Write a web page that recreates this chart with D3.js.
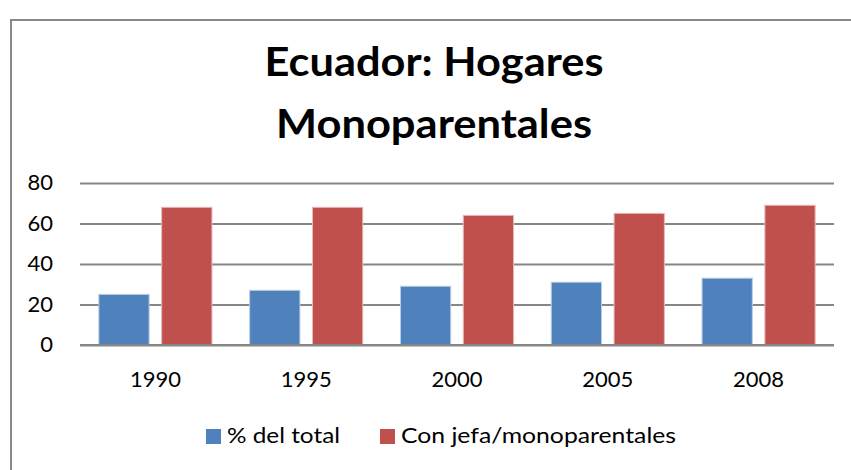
<!DOCTYPE html>
<html>
<head>
<meta charset="utf-8">
<script src="https://cdn.jsdelivr.net/npm/d3@7"></script>
<style>
  html, body { margin: 0; padding: 0; background: #fff; }
  svg { display: block; font-family: Lato, "Open Sans", sans-serif; }
</style>
</head>
<body>
<div id="chart"></div>
<script>
// data
const years = ["1990", "1995", "2000", "2005", "2008"];
const seriesNames = ["% del total", "Con jefa/monoparentales"];
const pctTotal = [25, 27, 29, 31, 33];
const conJefa = [68, 68, 64, 65, 69];
const yTicks = [0, 20, 40, 60, 80];
const titleLines = ["Ecuador: Hogares", "Monoparentales"];
const colors = ["#4F81BD", "#C0504D"];

const width = 851, height = 470;
const plot = { left: 80, right: 834, top: 183, bottom: 345 };

const svg = d3.select("#chart").append("svg")
  .attr("width", width)
  .attr("height", height);

// outer frame (runs off the right and bottom edges)
svg.append("rect")
  .attr("x", 11).attr("y", 20)
  .attr("width", 860).attr("height", 470)
  .attr("fill", "#fff")
  .attr("stroke", "#888")
  .attr("stroke-width", 2);

// title
const titleG = svg.append("g").attr("class", "title");
const titleWidths = [339, 316];
titleG.selectAll("text").data(titleLines).enter().append("text")
  .attr("x", 434)
  .attr("y", (d, i) => 76 + i * 62)
  .attr("text-anchor", "middle")
  .attr("font-size", 41)
  .attr("font-weight", "bold")
  .attr("fill", "#000")
  .attr("textLength", (d, i) => titleWidths[i])
  .attr("lengthAdjust", "spacingAndGlyphs")
  .text((d) => d);

const x0 = d3.scaleBand().domain(years).range([plot.left, plot.right]).padding(0);
const x1 = d3.scaleBand().domain(seriesNames).range([0, x0.bandwidth()])
  .paddingInner(0.2).paddingOuter(0.3);
const y = d3.scaleLinear().domain([0, 80]).range([plot.bottom, plot.top]);

// gridlines
svg.append("g")
  .attr("transform", `translate(${plot.left},0)`)
  .call(d3.axisLeft(y).tickValues(yTicks).tickSize(-(plot.right - plot.left)).tickFormat(""))
  .call((g) => g.select(".domain").remove())
  .call((g) => g.selectAll("line").attr("stroke", "#868686").attr("stroke-width", 2));

// y tick labels
svg.append("g").selectAll("text").data(yTicks).enter().append("text")
  .attr("x", 53)
  .attr("y", (d) => y(d) + 7)
  .attr("text-anchor", "end")
  .attr("font-size", 22)
  .attr("fill", "#000")
  .text((d) => d);

// bars
const rows = years.map((yr, i) => ({ year: yr, values: [pctTotal[i], conJefa[i]] }));
const groups = svg.append("g").selectAll("g").data(rows).enter().append("g")
  .attr("transform", (d) => `translate(${x0(d.year)},0)`);
groups.selectAll("rect")
  .data((d) => d.values.map((v, j) => ({ key: seriesNames[j], value: v, idx: j })))
  .enter().append("rect")
  .attr("x", (d) => x1(d.key))
  .attr("y", (d) => y(d.value))
  .attr("width", x1.bandwidth())
  .attr("height", (d) => y(0) - y(d.value))
  .attr("fill", (d) => colors[d.idx])
  .attr("stroke", (d) => d.idx === 0 ? "#b9cde5" : "#e6b9b8")
  .attr("stroke-width", 1);

// baseline on top of bars
svg.append("line")
  .attr("x1", plot.left).attr("x2", plot.right)
  .attr("y1", y(0)).attr("y2", y(0))
  .attr("stroke", "#868686").attr("stroke-width", 2);

// x labels
svg.append("g").selectAll("text").data(years).enter().append("text")
  .attr("x", (d) => x0(d) + x0.bandwidth() / 2)
  .attr("y", 387)
  .attr("text-anchor", "middle")
  .attr("font-size", 22)
  .attr("fill", "#000")
  .text((d) => d);

// legend
const legendX = [206, 380];
const legendW = [113, 275];
const legend = svg.append("g").selectAll("g").data(seriesNames).enter().append("g")
  .attr("transform", (d, i) => `translate(${legendX[i]},429)`);
legend.append("rect")
  .attr("width", 15).attr("height", 15)
  .attr("fill", (d, i) => colors[i]);
legend.append("text")
  .attr("x", 21).attr("y", 14)
  .attr("font-size", 22)
  .attr("fill", "#000")
  .attr("textLength", (d, i) => legendW[i])
  .attr("lengthAdjust", "spacingAndGlyphs")
  .text((d) => d);
</script>
</body>
</html>
